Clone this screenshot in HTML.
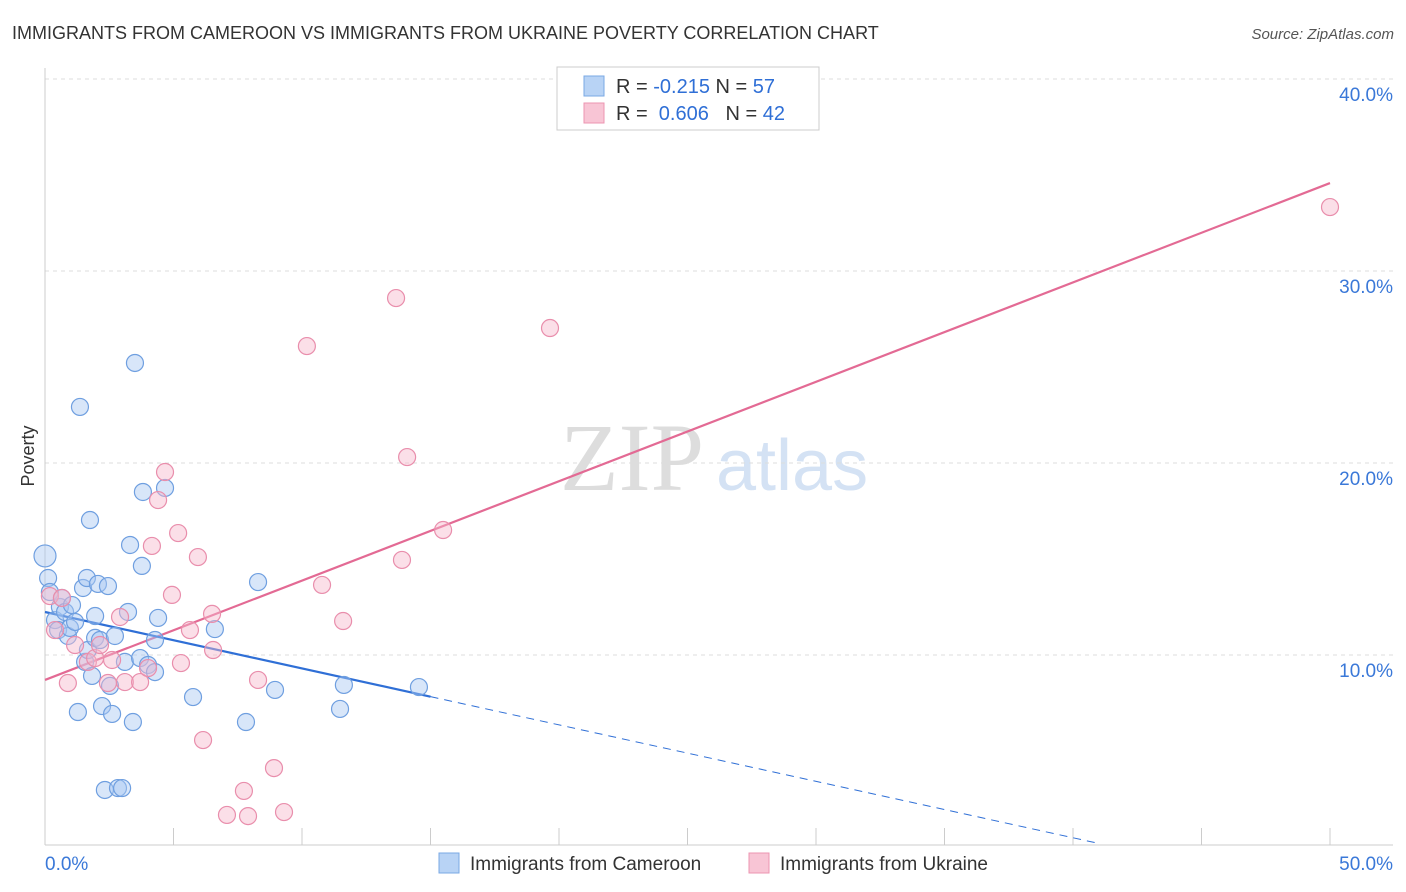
<!DOCTYPE html>
<html><head><meta charset="utf-8"><style>
body{margin:0;background:#fff;font-family:"Liberation Sans",sans-serif;}
#c{position:relative;width:1406px;height:892px;overflow:hidden;}
</style></head><body>
<div id="c">
<svg id="s" width="1406" height="892" xmlns="http://www.w3.org/2000/svg">
<text x="12" y="39" font-size="18" fill="#333">IMMIGRANTS FROM CAMEROON VS IMMIGRANTS FROM UKRAINE POVERTY CORRELATION CHART</text>
<text x="1394" y="39" font-size="15" fill="#555" font-style="italic" text-anchor="end">Source: ZipAtlas.com</text>
<text x="560" y="490" font-size="96" fill="#ddd" font-family="Liberation Serif,serif">ZIP</text>
<text x="716" y="490" font-size="72" fill="#d4e2f4">atlas</text>
<text x="34" y="456" font-size="18" fill="#333" text-anchor="middle" transform="rotate(-90 34 456)">Poverty</text>
<g id="grid"></g><g id="ticks"></g><g id="lines"></g><g id="pts"></g>
<g>
<rect x="557" y="67" width="262" height="63" fill="#fff" stroke="#ccc"/>
<rect x="584" y="76" width="20" height="20" fill="#b8d3f5" stroke="#7aa8e4"/>
<rect x="584" y="103" width="20" height="20" fill="#f8c5d5" stroke="#ec95b1"/>
<text x="616" y="93" font-size="20" fill="#333">R = <tspan fill="#2f6fd6">-0.215</tspan>   N = <tspan fill="#2f6fd6">57</tspan></text>
<text x="616" y="120" font-size="20" fill="#333" xml:space="preserve">R =  <tspan fill="#2f6fd6">0.606</tspan>   N = <tspan fill="#2f6fd6">42</tspan></text>
</g>
<g>
<rect x="439" y="853" width="20" height="20" fill="#b8d3f5" stroke="#7aa8e4"/>
<text x="470" y="870" font-size="19" fill="#333">Immigrants from Cameroon</text>
<rect x="749" y="853" width="20" height="20" fill="#f8c5d5" stroke="#ec95b1"/>
<text x="780" y="870" font-size="19" fill="#333">Immigrants from Ukraine</text>
</g>
</svg>
</div>
<script>
const yTicks=[10,20,30,40];
const xTickLabels=["0.0%","50.0%"];
const blueX=[0,0.12,0.19,0.39,0.51,0.58,0.66,0.78,0.89,0.97,1.05,1.17,1.28,1.36,1.48,1.56,1.63,1.67,1.75,1.83,1.95,1.95,2.06,2.14,2.22,2.33,2.45,2.53,2.61,2.72,2.84,3.0,3.11,3.23,3.31,3.42,3.5,3.7,3.77,3.81,4.01,4.28,4.28,4.4,4.67,5.76,6.61,7.82,8.29,8.95,11.48,11.63,14.55];
const blueY=[15.16,14.01,13.28,11.82,11.3,12.5,12.97,12.24,10.99,11.41,12.6,11.72,7.03,22.92,13.49,9.64,14.01,10.26,17.03,8.91,10.89,12.03,13.7,10.78,7.34,2.97,13.59,8.39,6.93,10.99,3.07,3.07,9.64,12.24,15.73,6.51,25.21,9.84,14.64,18.49,9.48,10.78,9.11,11.93,18.7,7.81,11.35,6.51,13.8,8.18,7.19,8.44,8.33];
const pinkX=[0.19,0.39,0.66,0.89,1.17,1.67,1.95,2.14,2.45,2.61,2.92,3.11,3.7,4.01,4.16,4.4,4.67,4.94,5.18,5.29,5.64,5.95,6.15,6.5,6.54,7.08,7.74,7.9,8.29,8.91,9.3,10.19,10.78,11.6,13.66,13.89,14.09,15.49,19.65,50];
const pinkY=[13.07,11.3,12.97,8.54,10.52,9.64,9.84,10.52,8.54,9.74,11.98,8.59,8.59,9.32,15.68,18.07,19.53,13.13,16.35,9.58,11.3,15.1,5.57,12.14,10.26,1.67,2.92,1.61,8.7,4.11,1.82,26.09,13.65,11.77,28.59,14.95,20.31,16.51,27.03,33.33];
const pinkTrend=[8.7,34.58];
const blueTrend=[12.24,-0.294];
const sx=v=>45+v*25.7, sy=v=>847-v*19.2;
const NS="http://www.w3.org/2000/svg";
function mk(p,t,a){const e=document.createElementNS(NS,t);for(const k in a)e.setAttribute(k,a[k]);p.appendChild(e);return e;}
const g=document.getElementById('grid'),tk=document.getElementById('ticks'),ln=document.getElementById('lines'),pt=document.getElementById('pts');
yTicks.forEach(v=>{
 const l=mk(g,'line',{x1:45,x2:1393,y1:sy(v),y2:sy(v),stroke:'#ddd','stroke-dasharray':'4 4'});
 
 
 const t=mk(g,'text',{x:1393,y:sy(v)+22,'font-size':19,fill:'#3a78d8','text-anchor':'end'});t.textContent=v.toFixed(1)+'%';
 
 
});
const ax=mk(tk,'line',{x1:45,x2:1393,y1:845,y2:845,stroke:'#ccc'});


const ay=mk(tk,'line',{x1:45,x2:45,y1:68,y2:845,stroke:'#ccc'});


for(let i=0;i<=10;i++){const l=mk(tk,'line',{x1:sx(i*5),x2:sx(i*5),y1:828,y2:845,stroke:'#ccc'});
 
 }
const t0=mk(tk,'text',{x:45,y:870,'font-size':19,fill:'#3a78d8'});t0.textContent=xTickLabels[0];


const t1=mk(tk,'text',{x:1393,y:870,'font-size':19,fill:'#3a78d8','text-anchor':'end'});t1.textContent=xTickLabels[1];


function dot(x,y,c,name,r){const e=mk(pt,'circle',{cx:sx(x),cy:sy(y),r:r||8.5,fill:c[0],'fill-opacity':0.45,stroke:c[1],'stroke-width':1.2});
 
 }
blueX.forEach((x,i)=>dot(x,blueY[i],['#a9c8f2','#6f9fe0'],'point-cameroon',i==0?11:8.5));
pinkX.forEach((x,i)=>dot(x,pinkY[i],['#f7b9cd','#e98eac'],'point-ukraine'));
const pl=mk(ln,'line',{x1:sx(0),y1:sy(pinkTrend[0]),x2:sx(50),y2:sy(pinkTrend[1]),stroke:'#e36a94','stroke-width':2.2});


const bx=15, bz=41.05;
const bl=mk(ln,'line',{x1:sx(0),y1:sy(blueTrend[0]),x2:sx(bx),y2:sy(blueTrend[0]+blueTrend[1]*bx),stroke:'#2f6fd6','stroke-width':2.2});


const bd=mk(ln,'line',{x1:sx(bx),y1:sy(blueTrend[0]+blueTrend[1]*bx),x2:sx(bz),y2:sy(blueTrend[0]+blueTrend[1]*bz),stroke:'#2f6fd6','stroke-width':1,'stroke-dasharray':'8 6'});


</script>
</body></html>
